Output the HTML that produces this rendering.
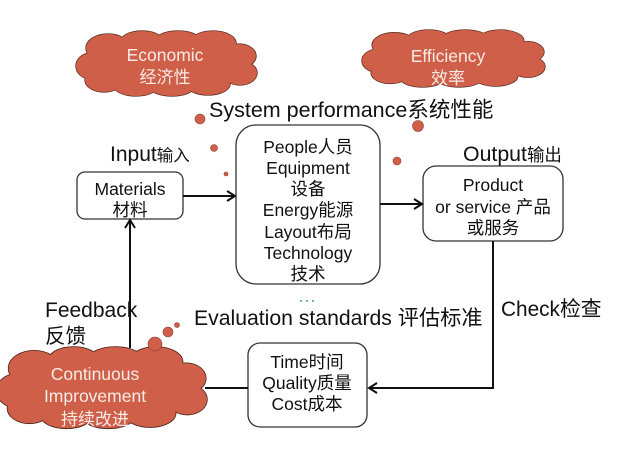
<!DOCTYPE html>
<html>
<head>
<meta charset="utf-8">
<style>
html,body{margin:0;padding:0;background:#fff;}
body{width:637px;height:465px;overflow:hidden;}
svg{display:block;}
text{font-family:"Liberation Sans","Noto Sans CJK SC",sans-serif;}
</style>
</head>
<body>
<svg width="637" height="465" viewBox="0 0 637 465" xmlns="http://www.w3.org/2000/svg">
<defs>
<g id="cshape">
<ellipse cx="108" cy="48" rx="22" ry="14"/>
<ellipse cx="142" cy="41" rx="21" ry="10"/>
<ellipse cx="178" cy="40" rx="22" ry="9"/>
<ellipse cx="213" cy="43" rx="23" ry="12"/>
<ellipse cx="239" cy="56" rx="17" ry="12"/>
<ellipse cx="91" cy="66" rx="15" ry="13"/>
<ellipse cx="104" cy="80" rx="19" ry="12"/>
<ellipse cx="136" cy="86" rx="22" ry="10"/>
<ellipse cx="172" cy="87" rx="22" ry="9"/>
<ellipse cx="208" cy="84" rx="22" ry="11"/>
<ellipse cx="240" cy="73" rx="17" ry="12"/>
<ellipse cx="166" cy="63" rx="76" ry="24"/>
</g>
<g id="cloud">
<g fill="#cf5f49" stroke="#4a2219" stroke-width="1.3"><use href="#cshape" style="vector-effect:non-scaling-stroke"/></g>
<g fill="#cf5f49" stroke="none"><use href="#cshape"/></g>
</g>
</defs>

<!-- Clouds -->
<g><use href="#cloud"/></g>
<g transform="translate(362,30) scale(1.011,0.877) translate(-76,-31)"><use href="#cloud"/></g>
<g transform="translate(-3,347) scale(1.16,1.25) translate(-76,-31)"><use href="#cloud"/></g>

<!-- Cloud texts -->
<g fill="#f7ebe6" text-anchor="middle">
<text x="165" y="61" font-size="17.5">Economic</text>
<text x="165" y="83" font-size="17">经济性</text>
<text x="448" y="62" font-size="17.5">Efficiency</text>
<text x="448" y="84" font-size="17">效率</text>
<text x="95" y="380" font-size="17.5">Continuous</text>
<text x="95" y="402" font-size="17.5">Improvement</text>
<text x="95" y="425" font-size="17">持续改进</text>
</g>

<!-- Bubbles -->
<g fill="#cf5f49" stroke="#8a4030" stroke-width="0.6">
<circle cx="200" cy="119" r="5"/>
<circle cx="214" cy="148" r="3.5"/>
<circle cx="226" cy="174" r="2"/>
<circle cx="418" cy="126" r="5.5"/>
<circle cx="397" cy="161" r="4"/>
<circle cx="378" cy="193" r="2"/>
<circle cx="155" cy="344" r="7"/>
<circle cx="168" cy="332" r="5"/>
<circle cx="177" cy="325" r="2.5"/>
</g>

<!-- Boxes -->
<g fill="#fff" stroke="#333" stroke-width="1.3">
<rect x="77" y="172" width="106" height="47" rx="8"/>
<rect x="236" y="125" width="144" height="159" rx="20"/>
<rect x="423" y="166" width="140" height="75" rx="13"/>
<rect x="248" y="343" width="119" height="84" rx="12"/>
</g>

<!-- Connectors -->
<g stroke="#111" stroke-width="2" fill="none">
<line x1="183" y1="196" x2="235" y2="196"/>
<polyline points="227,191 235,196 227,201"/>
<line x1="380" y1="204" x2="422" y2="204"/>
<polyline points="414,199 422,204 414,209"/>
<polyline points="493,241 493,388 369,388"/>
<polyline points="377,383 369,388 377,393"/>
<line x1="205" y1="388" x2="248" y2="388"/>
<line x1="130" y1="348" x2="130" y2="220"/>
<polyline points="125,228 130,220 135,228"/>
</g>

<!-- Box texts -->
<g fill="#111" text-anchor="middle" font-size="17.5">
<text x="130" y="195">Materials</text>
<text x="130" y="216">材料</text>
<text x="308" y="153">People人员</text>
<text x="308" y="174">Equipment</text>
<text x="308" y="195">设备</text>
<text x="308" y="216">Energy能源</text>
<text x="308" y="238">Layout布局</text>
<text x="308" y="259">Technology</text>
<text x="308" y="280">技术</text>
<text x="493" y="191">Product</text>
<text x="493" y="213">or service 产品</text>
<text x="493" y="234">或服务</text>
<text x="307" y="368">Time时间</text>
<text x="307" y="389">Quality质量</text>
<text x="307" y="410">Cost成本</text>
</g>

<!-- Labels -->
<g fill="#111">
<text x="209" y="117" font-size="21.5">System performance系统性能</text>
<text x="110" y="161" font-size="21">Input<tspan font-size="16.5">输入</tspan></text>
<text x="463" y="161" font-size="21.3">Output<tspan font-size="17.5">输出</tspan></text>
<text x="45" y="317" font-size="21">Feedback</text>
<text x="45" y="343" font-size="20.5">反馈</text>
<text x="194" y="325" font-size="21.2">Evaluation standards 评估标准</text>
<text x="501" y="316" font-size="20.8">Check检查</text>
</g>

<!-- green dots -->
<g fill="#4aa58a">
<circle cx="301" cy="301" r="1"/>
<circle cx="307" cy="301" r="1"/>
<circle cx="313" cy="301" r="1"/>
</g>
</svg>
</body>
</html>
